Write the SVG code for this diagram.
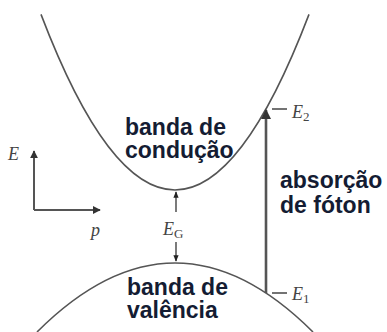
<svg xmlns="http://www.w3.org/2000/svg" width="387" height="332" viewBox="0 0 387 332">
<defs>
<style>
.curve{fill:none;stroke:#555;stroke-width:1.6}
.axis{fill:none;stroke:#555;stroke-width:2}
.thin{fill:none;stroke:#333;stroke-width:1.3}
.tick{fill:none;stroke:#444;stroke-width:1.5}
.lbl{font-family:"Liberation Sans",Arial,sans-serif;font-weight:bold;font-size:23px;fill:#141c33}
.math{font-family:"Liberation Serif","Times New Roman",serif;font-style:italic;font-size:18px;fill:#444}
.sub{font-family:"Liberation Serif","Times New Roman",serif;font-size:13px;fill:#444;font-style:normal}
</style>
<marker id="ah" viewBox="0 0 10 10" refX="9" refY="5" markerWidth="4" markerHeight="4" orient="auto-start-reverse" markerUnits="strokeWidth">
<path d="M0,0 L10,5 L0,10 Z" fill="#333"/>
</marker>
<marker id="ahs" viewBox="0 0 10 10" refX="9" refY="5" markerWidth="5" markerHeight="5" orient="auto" markerUnits="strokeWidth">
<path d="M0,1 L10,5 L0,9 Z" fill="#222"/>
</marker>
</defs>
<g id="conduction-band">
<path class="curve" d="M41,14.4 Q175,365.6 309,14.4"/>
<text class="lbl" x="125" y="135">banda de</text>
<text class="lbl" x="125" y="158">condução</text>
</g>
<g id="valence-band">
<path class="curve" d="M37,332 Q175,194 313,332"/>
<text class="lbl" x="127" y="295">banda de</text>
<text class="lbl" x="127" y="318">valência</text>
</g>
<g id="axes">
<path class="axis" d="M34,210 L34,151" marker-end="url(#ah)"/>
<path class="axis" d="M34,210 L100,210" marker-end="url(#ah)"/>
<text class="math" x="8" y="160">E</text>
<text class="math" x="91" y="236">p</text>
</g>
<g id="gap">
<text class="math" x="163" y="235">E<tspan class="sub" dy="3">G</tspan></text>
</g>
<g id="levels">
<text class="math" x="292" y="118">E<tspan class="sub" dy="3">2</tspan></text>
<text class="math" x="292" y="300">E<tspan class="sub" dy="3">1</tspan></text>
<text class="lbl" x="280" y="188">absorção</text>
<text class="lbl" x="280" y="213">de fóton</text>
</g>
<g id="connectors">
<path class="thin" d="M176,212 L176,192" marker-end="url(#ahs)"/>
<path class="thin" d="M176,242 L176,261" marker-end="url(#ahs)"/>
<path d="M266,293 L266,110" fill="none" stroke="#555" stroke-width="2.6" marker-end="url(#ah)"/>
<path class="tick" d="M272,109 L287,109"/>
<path class="tick" d="M272,293 L287,293"/>
</g>
</svg>
